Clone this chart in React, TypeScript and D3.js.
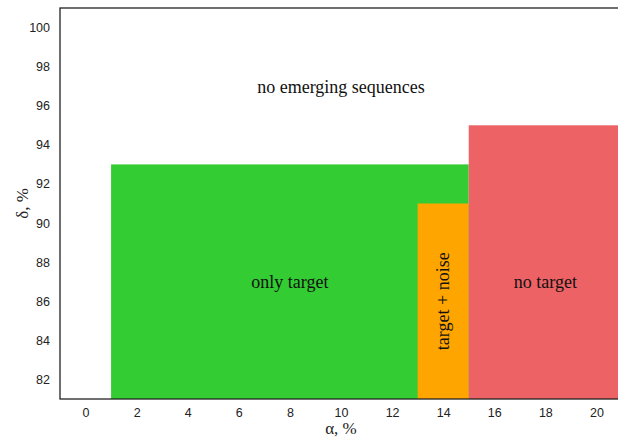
import React, { useEffect, useRef } from 'react'
import * as d3 from 'd3'

// regions in (alpha %, delta %) space
const regionNames = ['only target', 'target + noise', 'no target']
const regionX0 = [1, 13, 15]
const regionX1 = [15, 15, 21]
const regionY1 = [93, 91, 95]
const regionColors = ['#33cc33', '#ffa500', '#ec6265']

const xTicks = [0, 2, 4, 6, 8, 10, 12, 14, 16, 18, 20]
const yTicks = [82, 84, 86, 88, 90, 92, 94, 96, 98, 100]

// label anchor points
const labelText = ['no emerging sequences', 'only target', 'target + noise', 'no target']
const labelX = [10, 8, 14, 18]
const labelY = [97, 87, 86, 87]
const labelRotate = [0, 0, -90, 0]

const App: React.FC = () => {
  const ref = useRef<SVGSVGElement>(null)

  useEffect(() => {
    document.body.style.margin = '0'
    const width = 618
    const height = 439
    const left = 60
    const right = 622
    const top = 8
    const bottom = 399

    const svg = d3.select(ref.current)
    svg.selectAll('*').remove()

    const xScale = d3.scaleLinear().domain([-1, 21]).range([left, right])
    const yScale = d3.scaleLinear().domain([81, 101]).range([bottom, top])

    const ymin = yScale.domain()[0]

    svg
      .append('g')
      .selectAll('rect')
      .data(regionNames)
      .enter()
      .append('rect')
      .attr('x', (d, i) => xScale(regionX0[i]))
      .attr('width', (d, i) => xScale(regionX1[i]) - xScale(regionX0[i]))
      .attr('y', (d, i) => yScale(regionY1[i]))
      .attr('height', (d, i) => yScale(ymin) - yScale(regionY1[i]))
      .attr('fill', (d, i) => regionColors[i])

    // frame
    svg
      .append('rect')
      .attr('x', left)
      .attr('y', top)
      .attr('width', right - left)
      .attr('height', bottom - top)
      .attr('fill', 'none')
      .attr('stroke', '#222')
      .attr('stroke-width', 1.3)

    const xAxis = d3.axisBottom(xScale).tickValues(xTicks).tickSize(0).tickPadding(9)
    const yAxis = d3.axisLeft(yScale).tickValues(yTicks).tickSize(0).tickPadding(10)

    const gx = svg
      .append('g')
      .attr('transform', `translate(0, ${bottom})`)
      .call(xAxis)
    gx.select('.domain').remove()
    gx.selectAll('text')
      .attr('font-family', 'Liberation Sans, Arial, sans-serif')
      .attr('font-size', 12.5)
      .attr('fill', '#222')

    const gy = svg
      .append('g')
      .attr('transform', `translate(${left}, 0)`)
      .call(yAxis)
    gy.select('.domain').remove()
    gy.selectAll('text')
      .attr('font-family', 'Liberation Sans, Arial, sans-serif')
      .attr('font-size', 12.5)
      .attr('fill', '#222')

    // region labels
    svg
      .append('g')
      .selectAll('text')
      .data(labelText)
      .enter()
      .append('text')
      .attr('transform', (d, i) => `translate(${xScale(labelX[i])}, ${yScale(labelY[i])}) rotate(${labelRotate[i]})`)
      .attr('text-anchor', 'middle')
      .attr('dy', '0.35em')
      .attr('font-family', 'Liberation Serif, Times New Roman, serif')
      .attr('font-size', 18)
      .attr('fill', '#111')
      .text((d) => d)

    svg
      .append('text')
      .attr('x', xScale(10))
      .attr('y', 434)
      .attr('text-anchor', 'middle')
      .attr('font-family', 'Liberation Serif, Times New Roman, serif')
      .attr('font-size', 17)
      .attr('fill', '#222')
      .text('α, %')

    svg
      .append('text')
      .attr('transform', `translate(22, ${(top + bottom) / 2}) rotate(-90)`)
      .attr('text-anchor', 'middle')
      .attr('dy', '0.35em')
      .attr('font-family', 'Liberation Serif, Times New Roman, serif')
      .attr('font-size', 17)
      .attr('fill', '#222')
      .text('δ, %')

    svg.attr('width', width).attr('height', height)
  }, [])

  return <svg ref={ref} style={{ display: 'block' }} />
}

export default App
